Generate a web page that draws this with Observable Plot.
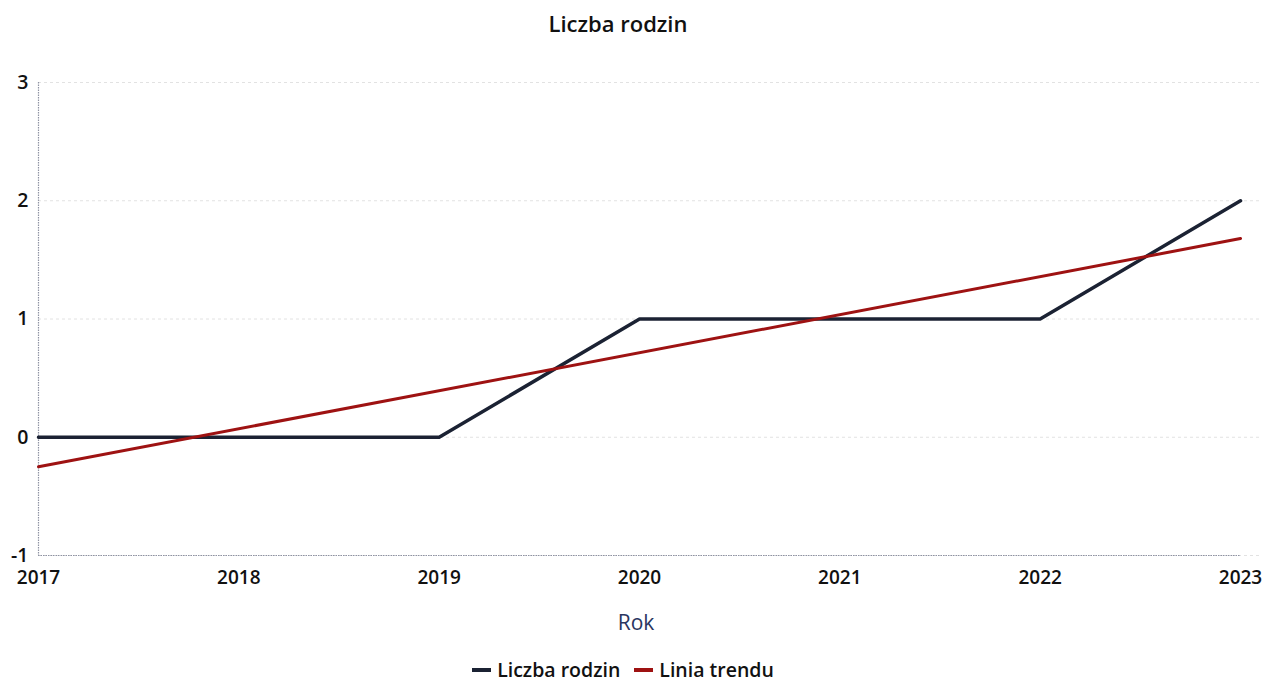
<!DOCTYPE html>
<html>
<head>
<meta charset="utf-8">
<script src="https://cdn.jsdelivr.net/npm/d3@7"></script>
<script src="https://cdn.jsdelivr.net/npm/@observablehq/plot@0.6"></script>
<style>
  html, body { margin: 0; padding: 0; background: #fff; }
  #wrap { position: relative; width: 1270px; height: 682px; font-family: "Open Sans", "Noto Sans", sans-serif; }
  #title { position: absolute; top: 8px; left: 0; width: 1236px; text-align: center; font-size: 22px; line-height: 30px; font-weight: 600; color: #111; }
  #chart { position: absolute; top: 0; left: 0; }
  #xlabel { position: absolute; top: 607px; left: 0; width: 1272px; text-align: center; font-size: 21px; line-height: 30px; color: #2a3560; }
  #legend { position: absolute; top: 651px; left: 0; width: 1246px; text-align: center; font-size: 19.5px; line-height: 28px; font-weight: 600; color: #111; }
  .item { display: inline-flex; align-items: center; margin: 0 7px; }
  .sw { display: inline-block; width: 19px; height: 4px; margin-right: 6px; }
</style>
</head>
<body>
<div id="wrap">
  <div id="title">Liczba rodzin</div>
  <div id="chart"></div>
  <div id="xlabel">Rok</div>
  <div id="legend"></div>
</div>
<script>
const years = [2017, 2018, 2019, 2020, 2021, 2022, 2023];
const families = [0, 0, 0, 1, 1, 1, 2];
const trendYears = [2017, 2023];
const trendValues = [-0.25, 1.68];
const yTicks = [-1, 0, 1, 2, 3];
const seriesNames = ["Liczba rodzin", "Linia trendu"];
const seriesColors = ["#1b2233", "#9e1212"];

const famData = years.map((y, i) => ({year: y, value: families[i]}));
const trendData = trendYears.map((y, i) => ({year: y, value: trendValues[i]}));

const chart = Plot.plot({
  width: 1270,
  height: 640,
  marginTop: 82,
  marginBottom: 85,
  marginLeft: 38,
  marginRight: 30,
  style: {fontFamily: "'Open Sans', 'Noto Sans', sans-serif", background: "transparent", overflow: "visible"},
  x: {domain: [2017, 2023]},
  y: {domain: [-1, 3]},
  marks: [
    Plot.ruleY(yTicks, {y: d => d, x1: 2017, x2: 2023, stroke: "#e2e2e2", strokeDasharray: "3,3", strokeWidth: 1, insetRight: -20}),
    Plot.ruleX([2017], {stroke: "#8f93a3", strokeDasharray: "1.5,1", strokeWidth: 1.2}),
    Plot.ruleY([-1], {stroke: "#8f93a3", strokeDasharray: "1.5,1", strokeWidth: 1.2}),
    Plot.axisX(years, {tickSize: 0, tickPadding: 15, fontSize: 19, fontWeight: 600, fill: "#111", tickFormat: d => String(d), label: null}),
    Plot.axisY(yTicks, {tickSize: 0, tickPadding: 10, fontSize: 19.5, fontWeight: 600, fill: "#111", tickFormat: d => String(d), label: null}),
    Plot.line(famData, {x: "year", y: "value", stroke: seriesColors[0], strokeWidth: 3.5}),
    Plot.line(trendData, {x: "year", y: "value", stroke: seriesColors[1], strokeWidth: 3})
  ]
});
document.getElementById("chart").appendChild(chart);

const legend = document.getElementById("legend");
seriesNames.forEach((n, i) => {
  const s = document.createElement("span");
  s.className = "item";
  s.innerHTML = `<span class="sw" style="background:${seriesColors[i]}"></span>${n}`;
  legend.appendChild(s);
});
</script>
</body>
</html>
